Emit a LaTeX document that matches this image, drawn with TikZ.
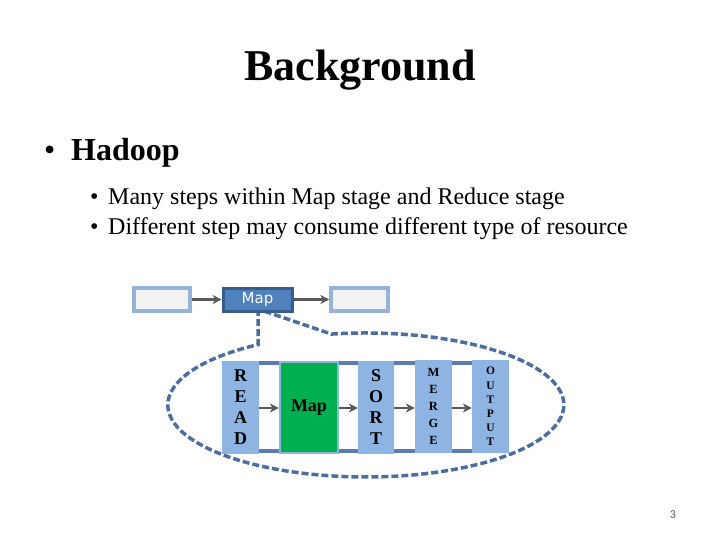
\documentclass[tikz,border=0pt]{standalone}
\usepackage{fontspec}
\setmainfont{Liberation Serif}
\newfontfamily\dvsfont{DejaVu Sans}
\newfontfamily\carlfont{Carlito}
\usetikzlibrary{arrows.meta,backgrounds}
\definecolor{lightfill}{HTML}{F2F2F2}
\definecolor{lightborder}{HTML}{95B3D7}
\definecolor{mapfill}{HTML}{4F81BD}
\definecolor{mapborder}{HTML}{385D8A}
\definecolor{stepfill}{HTML}{8DB4E2}
\definecolor{rowline}{HTML}{5B7DAD}
\definecolor{calloutcol}{HTML}{4D6F9F}
\definecolor{greenfill}{HTML}{00B050}
\definecolor{arrowgray}{HTML}{595959}
\begin{document}
\begin{tikzpicture}[x=1pt,y=-1pt,
  lightbox/.style={draw=lightborder,fill=lightfill,line width=3.5pt,minimum width=56pt,minimum height=23pt,inner sep=0pt},
  mapbox/.style={draw=mapborder,fill=mapfill,line width=3pt,minimum width=69pt,minimum height=23pt,inner sep=0pt,text=white,font=\dvsfont\fontsize{15}{17}\selectfont},
  stepbox/.style={fill=stepfill,minimum height=93pt,inner sep=0pt,align=center},
  flow/.style={draw=arrowgray,line width=2.8pt,-{Stealth[length=9pt,width=9pt]}},
  callout/.style={draw=calloutcol,line width=3.5pt,dash pattern=on 7pt off 3pt},
  rowframe/.style={draw=rowline,line width=3.5pt}
]
\useasboundingbox (0,0) rectangle (720,540);
% title and text
\node[anchor=base,inner sep=0pt,font=\bfseries\fontsize{44}{50}\selectfont] (title) at (360,81) {Background};
\node[anchor=base west,inner sep=0pt,font=\fontsize{32}{36}\selectfont] (bul1) at (44,161) {\textbullet};
\node[anchor=base west,inner sep=0pt,font=\bfseries\fontsize{32}{36}\selectfont] (hadoop) at (71,161) {Hadoop};
\node[anchor=base west,inner sep=0pt,font=\fontsize{24}{28}\selectfont] (bul2) at (90,205) {\textbullet};
\node[anchor=base west,inner sep=0pt,font=\fontsize{24}{28}\selectfont] (line1) at (108,205) {Many steps within Map stage and Reduce stage};
\node[anchor=base west,inner sep=0pt,font=\fontsize{24}{28}\selectfont] (bul3) at (90,234) {\textbullet};
\node[anchor=base west,inner sep=0pt,font=\fontsize{24}{28}\selectfont] (line2) at (108,234) {Different step may consume different type of resource};
% callout (behind)
\draw[callout] (258,309) -- (258,344.6) arc[start angle=237,end angle=-100,x radius=198,y radius=72] -- cycle;
% top row
\node[lightbox] (inbox) at (162,299.5) {};
\node[mapbox] (maptop) at (257.5,299.5) {Map};
\node[lightbox,minimum width=57pt] (outbox) at (359.5,299.5) {};
\draw[flow] (inbox.east) -- (maptop.west);
\draw[flow] (maptop.east) -- (outbox.west);
% inner row
\node[stepbox,minimum width=37pt,font=\bfseries\fontsize{18}{21}\selectfont] (read) at (240.5,407.5) {R\\E\\A\\D};
\node[stepbox,minimum width=60pt] (mapstep) at (309,407.5) {};
\node[fill=greenfill,minimum width=56pt,minimum height=89pt,inner sep=0pt,font=\bfseries\fontsize{18}{20}\selectfont] (mapgreen) at (mapstep.center) {Map};
\node[stepbox,minimum width=36pt,font=\bfseries\fontsize{18}{21}\selectfont] (sort) at (376,407.5) {S\\O\\R\\T};
\node[stepbox,minimum width=37pt,font=\bfseries\fontsize{12.5}{17}\selectfont] (merge) at (433.5,406) {M\\E\\R\\G\\E};
\node[stepbox,minimum width=37pt,font=\bfseries\fontsize{11.5}{14.2}\selectfont] (output) at (490.5,406.5) {O\\U\\T\\P\\U\\T};
\begin{scope}[on background layer]
\draw[rowframe] ([shift={(2,2)}]read.north west) rectangle ([shift={(-2,-2)}]output.south east);
\end{scope}
\draw[flow] (read.east |- 0,408) -- (mapstep.west |- 0,408);
\draw[flow] (mapstep.east |- 0,408) -- (sort.west |- 0,408);
\draw[flow] (sort.east |- 0,408) -- (merge.west |- 0,408);
\draw[flow] (merge.east |- 0,408) -- (output.west |- 0,408);
% page number
\node[inner sep=0pt,text=arrowgray,font=\carlfont\fontsize{12}{14}\selectfont] (pagenum) at (673,515) {3};
\end{tikzpicture}
\end{document}
